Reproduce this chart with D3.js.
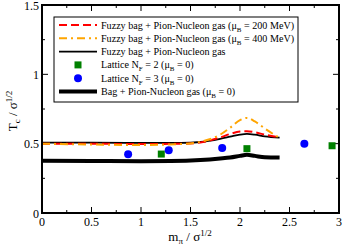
<!DOCTYPE html>
<html>
<head>
<meta charset="utf-8">
<script src="https://cdn.jsdelivr.net/npm/d3@7"></script>
<style>
body { margin:0; background:#fff; }
text { font-family: "Liberation Serif", "DejaVu Serif", serif; }
</style>
</head>
<body>
<svg width="343" height="250"></svg>
<script>
// curves (x = m_pi/sqrt(sigma), y = Tc/sqrt(sigma))
var fuzzyX   = [0, 0.5, 1.0, 1.4, 1.6, 1.8, 1.9, 2.0, 2.07, 2.15, 2.25, 2.4];
var fuzzy0   = [0.507, 0.507, 0.506, 0.505, 0.512, 0.535, 0.550, 0.565, 0.570, 0.565, 0.553, 0.543];
var fuzzy200 = [0.500, 0.499, 0.498, 0.499, 0.508, 0.545, 0.570, 0.588, 0.590, 0.582, 0.565, 0.545];
var fuzzy400 = [0.500, 0.494, 0.490, 0.497, 0.514, 0.565, 0.615, 0.670, 0.686, 0.660, 0.610, 0.540];
var bagX     = [0, 0.5, 1.0, 1.3, 1.6, 1.8, 1.9, 2.0, 2.07, 2.15, 2.25, 2.4];
var bag0     = [0.376, 0.375, 0.374, 0.375, 0.382, 0.393, 0.400, 0.412, 0.420, 0.412, 0.402, 0.400];
var lat2x = [1.205, 2.07, 2.93];
var lat2y = [0.425, 0.464, 0.485];
var lat3x = [0.87, 1.28, 1.82, 2.65];
var lat3y = [0.423, 0.452, 0.469, 0.500];
var xTicks = [0, 0.5, 1, 1.5, 2, 2.5, 3];
var yTicks = [0, 0.5, 1, 1.5];

var svg = d3.select("svg");
var L = 42, R = 339, T = 5, B = 213;
var x = d3.scaleLinear().domain([0, 3]).range([L, R]);
var y = d3.scaleLinear().domain([0, 1.5]).range([B, T]);

// ticks (inward, all four sides)
var g = svg.append("g");
d3.range(0, 3.001, 0.25).forEach(function(v){
    var major = Math.abs(v*2 - Math.round(v*2)) < 1e-6;
    var len = major ? 6 : 3;
    g.append("line").attr("x1", x(v)).attr("x2", x(v)).attr("y1", B).attr("y2", B-len).attr("stroke","#000");
    g.append("line").attr("x1", x(v)).attr("x2", x(v)).attr("y1", T).attr("y2", T+len).attr("stroke","#000");
});
d3.range(0, 1.501, 0.25).forEach(function(v){
    var major = Math.abs(v*2 - Math.round(v*2)) < 1e-6;
    var len = major ? 6 : 3;
    g.append("line").attr("y1", y(v)).attr("y2", y(v)).attr("x1", L).attr("x2", L+len).attr("stroke","#000");
    g.append("line").attr("y1", y(v)).attr("y2", y(v)).attr("x1", R).attr("x2", R-len).attr("stroke","#000");
});
xTicks.forEach(function(v){
    svg.append("text").attr("x", x(v)).attr("y", B+13).attr("text-anchor","middle")
        .attr("font-size", 12).text(v);
});
yTicks.forEach(function(v){
    svg.append("text").attr("x", L-3).attr("y", y(v)+4.5).attr("text-anchor","end")
        .attr("font-size", 12).text(v);
});

var line = d3.line().x(function(d){ return x(d[0]); }).y(function(d){ return y(d[1]); })
    .curve(d3.curveMonotoneX);
function pts(xs, ys){ return xs.map(function(v,i){ return [v, ys[i]]; }); }

var plot = svg.append("g");
plot.append("path").attr("d", line(pts(bagX, bag0))).attr("fill","none").attr("stroke","#000").attr("stroke-width",4);
plot.append("path").attr("d", line(pts(fuzzyX, fuzzy0))).attr("fill","none").attr("stroke","#000").attr("stroke-width",1.8);
plot.append("path").attr("d", line(pts(fuzzyX, fuzzy200))).attr("fill","none").attr("stroke","#ff0000").attr("stroke-width",2)
    .attr("stroke-dasharray","8,4");
plot.append("path").attr("d", line(pts(fuzzyX, fuzzy400))).attr("fill","none").attr("stroke","#ffa500").attr("stroke-width",2)
    .attr("stroke-dasharray","8,4,2,4");

plot.selectAll(".sq").data(pts(lat2x, lat2y)).enter().append("rect")
    .attr("x", function(d){ return x(d[0])-3.5; }).attr("y", function(d){ return y(d[1])-3.5; })
    .attr("width",7).attr("height",7).attr("fill","#008000");
plot.selectAll(".ci").data(pts(lat3x, lat3y)).enter().append("circle")
    .attr("cx", function(d){ return x(d[0]); }).attr("cy", function(d){ return y(d[1]); })
    .attr("r",4).attr("fill","#0000ff");

// frame
svg.append("rect").attr("x",L).attr("y",T).attr("width",R-L).attr("height",B-T)
    .attr("fill","none").attr("stroke","#000").attr("stroke-width",2);

// legend
var lg = svg.append("g");
lg.append("rect").attr("x",54).attr("y",17).attr("width",244).attr("height",85)
    .attr("fill","#fff").attr("stroke","#000").attr("stroke-width",1);
var rows = [
    {t:["Fuzzy bag + Pion-Nucleon gas (μ","B"," = 200 MeV)"], s:"red"},
    {t:["Fuzzy bag + Pion-Nucleon gas (μ","B"," = 400 MeV)"], s:"orange"},
    {t:["Fuzzy bag + Pion-Nucleon gas"], s:"black"},
    {t:["Lattice N","F"," = 2 (μ","B"," = 0)"], s:"square"},
    {t:["Lattice N","F"," = 3 (μ","B"," = 0)"], s:"circle"},
    {t:["Bag + Pion-Nucleon gas (μ","B"," = 0)"], s:"thick"}
];
rows.forEach(function(r, i){
    var yy = 25 + i*13.3;
    if (r.s == "red") lg.append("line").attr("x1",59).attr("x2",97).attr("y1",yy).attr("y2",yy)
        .attr("stroke","#ff0000").attr("stroke-width",2).attr("stroke-dasharray","8,4");
    if (r.s == "orange") lg.append("line").attr("x1",59).attr("x2",97).attr("y1",yy).attr("y2",yy)
        .attr("stroke","#ffa500").attr("stroke-width",2).attr("stroke-dasharray","8,4,2,4");
    if (r.s == "black") lg.append("line").attr("x1",59).attr("x2",97).attr("y1",yy).attr("y2",yy)
        .attr("stroke","#000").attr("stroke-width",1.8);
    if (r.s == "thick") lg.append("line").attr("x1",59).attr("x2",97).attr("y1",yy).attr("y2",yy)
        .attr("stroke","#000").attr("stroke-width",4);
    if (r.s == "square") lg.append("rect").attr("x",74.5).attr("y",yy-3.5).attr("width",7).attr("height",7).attr("fill","#008000");
    if (r.s == "circle") lg.append("circle").attr("cx",78).attr("cy",yy).attr("r",4).attr("fill","#0000ff");
    var tx = lg.append("text").attr("x",101).attr("y",yy+3.5).attr("font-size",10.1);
    r.t.forEach(function(part, j){
        if (j % 2 == 1) tx.append("tspan").attr("dy",3).attr("font-size",7).text(part);
        else tx.append("tspan").attr("dy", j>0 ? -3 : 0).text(part);
    });
});

// axis titles
var xt = svg.append("text").attr("x",190).attr("y",241).attr("text-anchor","middle").attr("font-size",13);
xt.append("tspan").text("m");
xt.append("tspan").attr("dy",3).attr("font-size",9).text("π");
xt.append("tspan").attr("dy",-3).text(" / σ");
xt.append("tspan").attr("dy",-5).attr("font-size",9).text("1/2");

var yt = svg.append("text").attr("transform","translate(17,111) rotate(-90)").attr("text-anchor","middle").attr("font-size",13);
yt.append("tspan").text("T");
yt.append("tspan").attr("dy",3).attr("font-size",9).text("c");
yt.append("tspan").attr("dy",-3).text(" / σ");
yt.append("tspan").attr("dy",-5).attr("font-size",9).text("1/2");
</script>
</body>
</html>
